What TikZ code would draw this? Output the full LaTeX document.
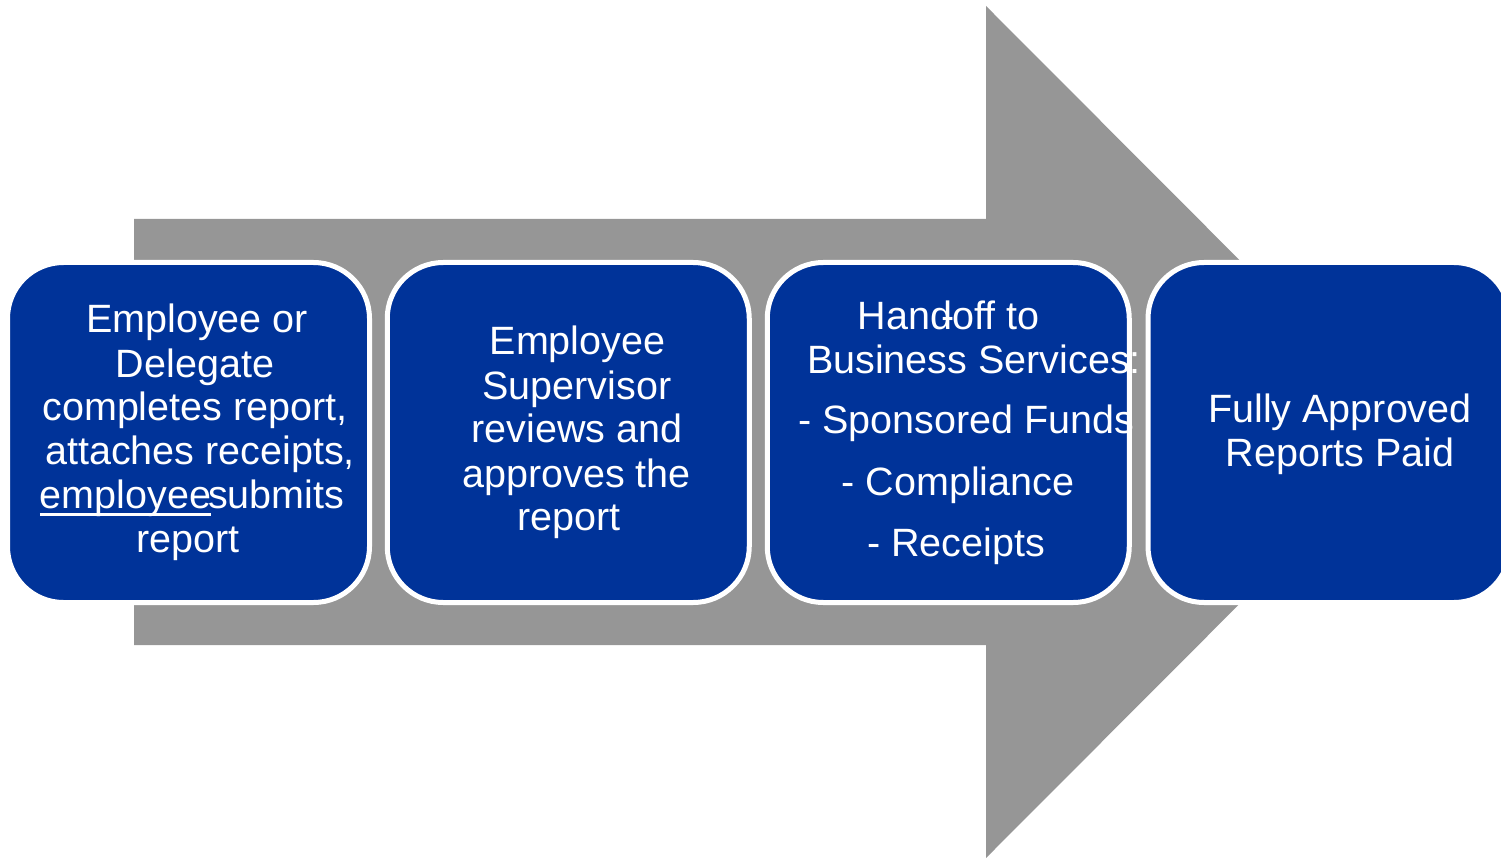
\documentclass[tikz,border=0pt]{standalone}
\usepackage{fontspec}
\setmainfont{Liberation Sans}[Ligatures=NoCommon]
\definecolor{boxblue}{RGB}{0,51,153}
\definecolor{arrowgrey}{RGB}{150,150,150}
\newcommand\ulword[1]{{\setbox0\hbox{#1}\rlap{\rule[-7pt]{\wd0}{2.5pt}}\box0}}
\tikzset{
  stepbox/.style={rectangle, rounded corners=56pt, minimum width=362pt,
    minimum height=340pt, inner sep=0pt, fill=boxblue, draw=white, line width=5pt},
  steptext/.style={anchor=base, inner sep=0pt, text=white,
    font=\fontsize{39.5}{44}\selectfont},
  bigarrow/.style={fill=arrowgrey}
}
\begin{document}
\begin{tikzpicture}[x=1pt,y=-1pt]
\useasboundingbox (0,0) rectangle (1501,858);
\clip (0,0) rectangle (1501,858);
\fill[bigarrow] (134,219) -- (986,219) -- (986,6) -- (1411,432) -- (986,858)
  -- (986,645) -- (134,645) -- cycle;

\node[stepbox] (b1) at (188.5,432.5) {};
\node[stepbox] (b2) at (568.25,432.5) {};
\node[stepbox] (b3) at (948.25,432.5) {};
\node[stepbox] (b4) at (1329,432.5) {};

\node[steptext] (t1) at (188,333) {\begin{tabular}[t]{@{}c@{}}
  \hspace*{18pt}Employee or\\
  \hspace*{14pt}Delegate\\
  \hspace*{14pt}completes report,\\
  \hspace*{24pt}attaches receipts,\\
  \hspace*{8pt}\ulword{employee}\kern-3pt submits\\
  report
\end{tabular}};

\node[steptext] (t2) at (568,355) {\begin{tabular}[t]{@{}c@{}}
  \hspace*{19pt}Employee\\
  \hspace*{18pt}Supervisor\\
  \hspace*{18pt}reviews and\\
  \hspace*{17pt}approves the\\
  \hspace*{2pt}report
\end{tabular}};

\node[steptext] (t3) at (948.5,330) {\begin{tabular}[t]{@{}c@{}}
  Hand\llap{-\kern-3pt}off to\\
  \hspace*{51pt}Business Services:\\[16pt]
  \hspace*{35pt}- Sponsored Funds\\[18pt]
  \hspace*{19pt}- Compliance\\[16pt]
  \hspace*{15pt}- Receipts
\end{tabular}};

\node[steptext] (t4) at (1340,422) {\begin{tabular}[t]{@{}c@{}}
  Fully Approved\\
  Reports Paid
\end{tabular}};
\end{tikzpicture}
\end{document}
